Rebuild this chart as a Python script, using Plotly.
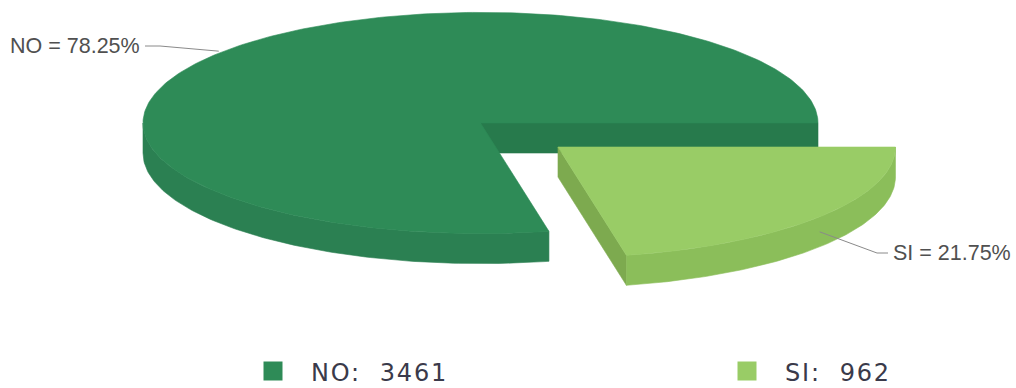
import numpy as np
import plotly.graph_objects as go

# ---- data ----
categories = ["SI", "NO"]
values = [962, 3461]
top_colors = ["#99CC66", "#2E8B57"]
wall_colors = ["#8BBE5A", "#2B8052"]
inner_colors = ["#7DAA4F", "#277A4C"]

# ---- layout constants (pixels) ----
W, H = 1016, 388
CX, CY = 480.5, 123.0
RX, RY = 337.5, 110.6
DEPTH = 30.0
EXPLODE = {"SI": (0.296, 0.344), "NO": (0.0, 0.0)}

total = sum(values)
fracs = [v / total for v in values]

fig = go.Figure()


def arc(cx, cy, t0, t1, n=120, dy=0.0):
    t = np.radians(np.linspace(t0, t1, n))
    return cx + RX * np.cos(t), cy + RY * np.sin(t) + dy


def add_poly(xs, ys, color):
    fig.add_trace(go.Scatter(x=list(xs), y=list(ys), mode="lines", fill="toself",
                             fillcolor=color, line=dict(color=color, width=0.6),
                             hoverinfo="skip", showlegend=False))


slices = []
start = 0.0
for cat, f, tc, wc, ic in zip(categories, fracs, top_colors, wall_colors, inner_colors):
    t0, t1 = start, start + 360 * f
    mid = np.radians((t0 + t1) / 2)
    kx, ky = EXPLODE[cat]
    cx = CX + kx * RX * np.cos(mid)
    cy = CY + ky * RY * np.sin(mid)
    slices.append(dict(cat=cat, f=f, t0=t0, t1=t1, cx=cx, cy=cy, tc=tc, wc=wc, ic=ic, mid=mid))
    start = t1

# draw back slice (NO) first, then front slice (SI)
for s in sorted(slices, key=lambda s: s["cy"]):
    cx, cy, t0, t1 = s["cx"], s["cy"], s["t0"], s["t1"]
    # inner walls: visible where outward normal points toward viewer
    for edge, normal in ((t0, t0 - 90), (t1, t1 + 90)):
        if np.sin(np.radians(normal)) > 0:
            ex = cx + RX * np.cos(np.radians(edge))
            ey = cy + RY * np.sin(np.radians(edge))
            add_poly([cx, ex, ex, cx, cx], [cy, ey, ey + DEPTH, cy + DEPTH, cy], s["ic"])
    # outer wall, front half only
    if t0 < 180 and t1 > 0:
        a = t0
        b = min(t1, 180)
        xt, yt = arc(cx, cy, a, b)
        xb, yb = arc(cx, cy, b, a, dy=DEPTH)
        add_poly(np.r_[xt, xb, xt[0]], np.r_[yt, yb, yt[0]], s["wc"])
    # top face
    xa, ya = arc(cx, cy, t0, t1, n=300)
    add_poly(np.r_[cx, xa, cx], np.r_[cy, ya, cy], s["tc"])

# ---- labels with leader lines ----
label_font = dict(family="Liberation Sans, Arial, sans-serif", size=21.5, color="#505050")
for s in slices:
    txt = f"{s['cat']} = {s['f'] * 100:.2f}%"
    px = s["cx"] + RX * np.cos(s["mid"])
    py = s["cy"] + RY * np.sin(s["mid"])
    if np.cos(s["mid"]) < 0:
        lx = [px, 160, 145]
        ly = [py - 2, 46, 46]
        fig.add_annotation(x=142, y=46, text=txt, showarrow=False, xanchor="right",
                           yanchor="middle", font=label_font)
    else:
        py = py + DEPTH / 2
        lx = [px, 877, 888]
        ly = [py, 253, 253]
        fig.add_annotation(x=891, y=253, text=txt, showarrow=False, xanchor="left",
                           yanchor="middle", font=label_font)
    fig.add_trace(go.Scatter(x=lx, y=ly, mode="lines", line=dict(color="#8a8a8a", width=1),
                             hoverinfo="skip", showlegend=False))

# ---- legend (manual) ----
legend_font = dict(family="DejaVu Sans, Verdana, sans-serif", size=24, color="#3a3a4a")
leg_x = {"NO": 273, "SI": 747}
legend_idx = []
for s in sorted(slices, key=lambda s: -s["f"]):
    v = values[categories.index(s["cat"])]
    fig.add_trace(go.Scatter(x=[leg_x[s["cat"]]], y=[371], mode="markers",
                             marker=dict(symbol="square", size=19, color=s["tc"],
                                         line=dict(width=0)),
                             hoverinfo="skip", showlegend=False))
    legend_idx.append(len(fig.layout.annotations))
    fig.add_annotation(x=leg_x[s["cat"]] + 36, y=373, text=f"{s['cat']}:\u00a0\u00a0{v}",
                       showarrow=False, xanchor="left", yanchor="middle", align="left",
                       font=legend_font)

fig.update_layout(
    width=W, height=H, margin=dict(l=0, r=0, t=0, b=0),
    paper_bgcolor="white", plot_bgcolor="white",
    xaxis=dict(range=[0, W], visible=False, fixedrange=True),
    yaxis=dict(range=[H, 0], visible=False, fixedrange=True),
    showlegend=False,
)

js = "document.body.style.margin='0';document.body.style.overflow='hidden';"
for i in legend_idx:
    js += ("document.querySelectorAll('.annotation[data-index=\"%d\"] .annotation-text')"
           ".forEach(function(e){e.style.letterSpacing='1.8px';});" % i)
fig.write_html("out.html", config={"displayModeBar": False}, post_script=js)
